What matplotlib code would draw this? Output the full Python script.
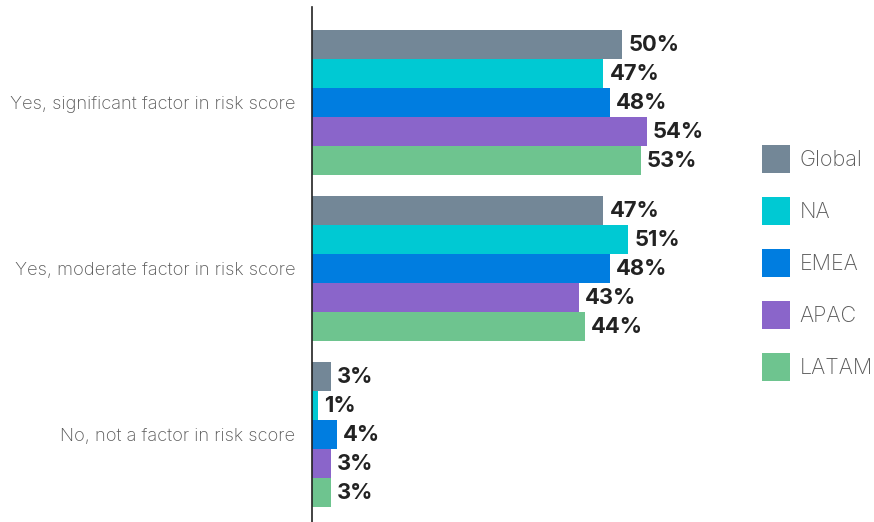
import matplotlib.pyplot as plt
from matplotlib.patches import Patch
import numpy as np

plt.rcParams['font.family'] = ['Inter', 'DejaVu Sans']

categories = ['Yes, significant factor in risk score',
              'Yes, moderate factor in risk score',
              'No, not a factor in risk score']
regions = ['Global', 'NA', 'EMEA', 'APAC', 'LATAM']
colors = ['#738797', '#00C9D3', '#007DE0', '#8A65CA', '#6EC48F']

global_vals = [50, 47, 3]
na_vals = [47, 51, 1]
emea_vals = [48, 48, 4]
apac_vals = [54, 43, 3]
latam_vals = [53, 44, 3]
series = [global_vals, na_vals, emea_vals, apac_vals, latam_vals]

W, H, DPI = 874, 522, 100
fig = plt.figure(figsize=(W / DPI, H / DPI), dpi=DPI)
ax = fig.add_axes([312 / W, 0, 434 / W, (H - 7) / H])

bar_h = 29 / 166
y = np.arange(len(categories))
for i, (vals, col) in enumerate(zip(series, colors)):
    pos = y + (i - 2) * bar_h
    bars = ax.barh(pos, vals, height=bar_h, color=col, label=regions[i])
    for b, v in zip(bars, vals):
        ax.annotate(f'{v}%', (b.get_width(), b.get_y() + b.get_height() / 2),
                    xytext=(4.5, 0), textcoords='offset points',
                    va='center', ha='left', fontsize=15.8, fontweight='bold',
                    color='#222222')

ax.set_xlim(0, 434 / 6.2)
ax.set_ylim(2 + 87 / 166, -95.5 / 166)

for s in ['top', 'right', 'bottom']:
    ax.spines[s].set_visible(False)
ax.spines['left'].set_color('#222222')
ax.spines['left'].set_linewidth(1.2)
ax.set_xticks([])
ax.set_yticks(y)
ax.set_yticklabels(categories, fontsize=13.2, color='#595959', fontweight='light')
ax.tick_params(axis='y', length=0, pad=12)

# legend squares: 28 px each, rows 52 px apart
fs = 15.5
fs_px = fs * DPI / 72
hh = (28 / fs_px - 0.245) / 0.65
handles = [Patch(facecolor=c, edgecolor='none') for c in colors]
leg = fig.legend(handles, regions, loc='upper left',
                 bbox_to_anchor=(762 / W, 1 - 145 / H), frameon=False,
                 fontsize=fs, borderpad=0, borderaxespad=0,
                 handlelength=28 / fs_px, handleheight=hh, handletextpad=0.45,
                 labelspacing=(52 - 28) / fs_px, labelcolor='#595959')
for t in leg.get_texts():
    t.set_fontweight('light')

fig.savefig('out.png', dpi=DPI)
